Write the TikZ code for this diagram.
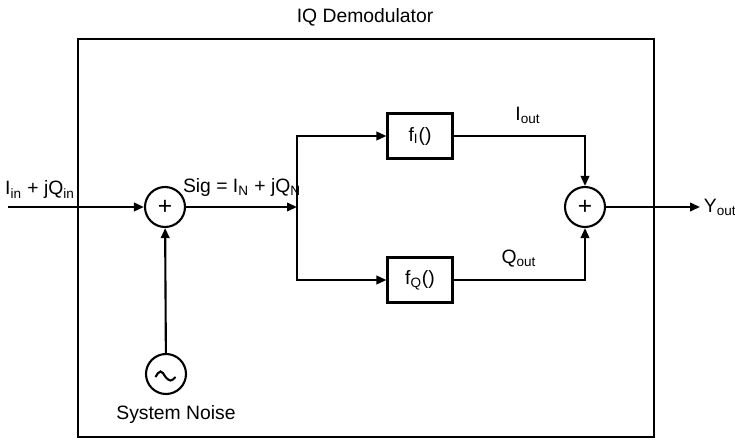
\documentclass[tikz,border=0pt]{standalone}
\usepackage{fontspec}
\setmainfont{Liberation Sans}
\usepackage{tikz}
\usetikzlibrary{arrows.meta,positioning,calc}

\begin{document}
\begin{tikzpicture}[
    font=\fontsize{11}{13}\selectfont,
    sum/.style={draw, circle, line width=1.2pt, minimum size=0.8cm, inner sep=0pt, font=\fontsize{14}{14}\selectfont},
    func/.style={draw, line width=1.2pt, minimum width=1.3cm, minimum height=0.9cm, inner sep=0pt},
    src/.style={draw, circle, line width=1.2pt, minimum size=0.8cm, inner sep=0pt},
    lbl/.style={inner sep=1pt},
    wire/.style={line width=1.2pt},
    arr/.style={-{Triangle[length=2mm, width=1.7mm]}, line width=1.2pt},
]
\useasboundingbox (0,0) rectangle (14.7,8.8);
% Enclosing block
\node[draw, line width=1.3pt, minimum width=11.52cm, minimum height=7.96cm, inner sep=0pt, anchor=south west] (demod) at (1.54,0.04) {};
\node (title) at (7.3,8.46) {IQ Demodulator};
% Summing junctions
\node[sum] (sumin) at (3.3,4.66) {+};
\node[sum] (sumout) at (11.7,4.66) {+};
% Noise source
\node[src] (noise) at (3.32,1.32) {};
\draw[wire] ($(noise)+(-0.21,-0.06)$) sin ++(0.1,0.11) cos ++(0.1,-0.11) sin ++(0.1,-0.07) cos ++(0.1,0.07);
\node[below=0.08cm of noise, xshift=0.2cm] (noiselbl) {System Noise};
% Branch functions
\node[func] (fi) at (8.4,6.08) {f\textsubscript{I}()};
\node[func] (fq) at (8.4,3.2) {f\textsubscript{Q}()};
% Split point, input and output
\coordinate (split) at (5.94,4.66);
\coordinate (in) at (0.16,4.66);
\node[anchor=west, inner sep=2pt] (yout) at (14.0,4.66) {Y\textsubscript{out}};
% Labels
\node[lbl] (inlbl) at (0.8,5.0) {I\textsubscript{in} + jQ\textsubscript{in}};
\node[lbl] (siglbl) at (4.84,5.04) {Sig = I\textsubscript{N} + jQ\textsubscript{N}};
\node[lbl] (ilbl) at (10.56,6.5) {I\textsubscript{out}};
\node[lbl] (qlbl) at (10.38,3.62) {Q\textsubscript{out}};
% Connectors
\draw[arr] (in) -- (sumin);
\draw[arr] (noise) -- (sumin);
\draw[arr] (sumin) -- (split);
\draw[arr] (split) |- (fi);
\draw[arr] (split) |- (fq);
\draw[arr] (fi) -| (sumout);
\draw[arr] (fq) -| (sumout);
\draw[arr] (sumout) -- (yout);
\end{tikzpicture}
\end{document}
